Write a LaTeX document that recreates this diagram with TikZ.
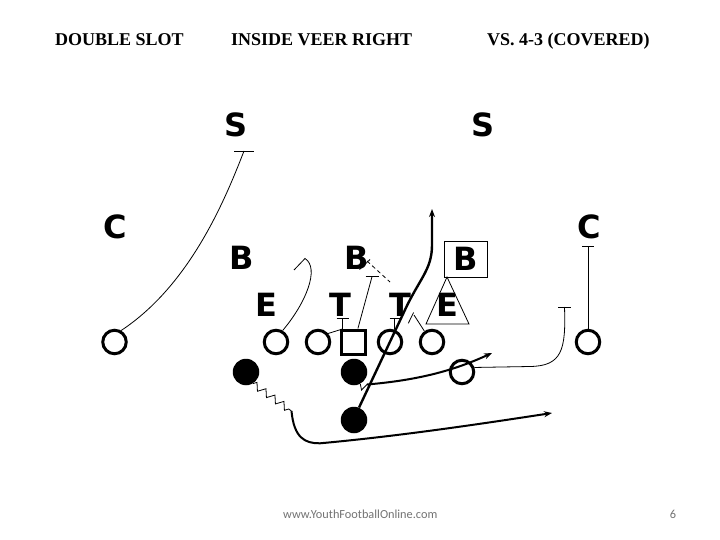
\documentclass[tikz,border=0pt]{standalone}
\usepackage{fontspec}
\setmainfont{Liberation Serif}
\newfontfamily\dejafont{DejaVu Sans}
\newfontfamily\carfont{Carlito}
\usetikzlibrary{arrows.meta,decorations.pathmorphing}
\begin{document}
\begin{tikzpicture}[x=1pt,y=-1pt,
  plyr/.style={font=\dejafont\bfseries\fontsize{32}{32}\selectfont, inner sep=0pt},
  ocirc/.style={circle,draw,line width=3pt,minimum size=23.5pt,inner sep=0pt},
  fcirc/.style={circle,fill,minimum size=26.5pt,inner sep=0pt},
  osq/.style={rectangle,draw,line width=3pt,minimum size=24pt,inner sep=0pt},
  rthin/.style={line width=0.8pt},
  rthick/.style={line width=2pt},
  rtip/.style={-{Stealth[length=8pt,width=6pt]}},
  ttl/.style={font=\bfseries\fontsize{18}{18}\selectfont, anchor=base west, inner sep=0pt},
  foot/.style={font=\carfont\fontsize{12.3}{12.3}\selectfont, text=black!55, anchor=base west, inner sep=0pt}
]
\fill[white] (0,0) rectangle (720,540);
\useasboundingbox (0,0) rectangle (720,540);

% titles
\node[ttl] (t1) at (55,46) {DOUBLE SLOT};
\node[ttl] (t2) at (231,46) {INSIDE VEER RIGHT};
\node[ttl] (t3) at (487,46) {VS. 4-3 (COVERED)};
\node[foot] (web) at (283,518) {www.YouthFootballOnline.com};
\node[foot, anchor=base] (pg) at (673,518) {6};

% defense
\node[plyr] (S1) at (236,125) {S};
\node[plyr] (S2) at (483,125) {S};
\node[plyr] (C1) at (115.5,227) {C};
\node[plyr] (C2) at (589,227) {C};
\node[plyr] (B1) at (242,258) {B};
\node[plyr] (B2) at (357,258) {B};
\node[plyr, draw, line width=0.8pt, minimum width=43pt, minimum height=36pt] (B3) at (465.5,259) {B};
\coordinate (tra) at (447,277);
\coordinate (trb) at (426,324);
\coordinate (trc) at (469,324);
\draw[rthin] (tra) -- (trb) -- (trc) -- cycle;
\node[plyr] (E1) at (266,305) {E};
\node[plyr] (T1) at (340,305) {T};
\node[plyr] (T2) at (400,305) {T};
\node[plyr] (E2) at (447,305) {E};

% offense
\node[ocirc] (WR1) at (114.5,342) {};
\node[ocirc] (OT1) at (276,342) {};
\node[ocirc] (OG1) at (318,342) {};
\node[osq] (CN) at (353,342) {};
\node[ocirc] (OG2) at (390,342) {};
\node[ocirc] (OT2) at (432,342) {};
\node[ocirc] (SL) at (462,372) {};
\node[ocirc] (WR2) at (588,342) {};
\node[fcirc] (HB) at (246,372) {};
\node[fcirc] (QB) at (354,372) {};
\node[fcirc] (FB) at (354,420) {};

% WR1 block on S
\coordinate (wr1e) at (244,151);
\draw[rthin] (WR1.60) .. controls (190,285) and (225,200) .. (wr1e);
\draw[rthin] (wr1e) ++(-10,0) -- ++(20,0);

% OT1 route
\coordinate (ot1e) at (305,258.5);
\draw[rthin] (OT1.60) .. controls (306,303) and (320,268) .. (ot1e) -- (294,270);

% OG1 block
\coordinate (og1a) at (342.5,329);
\coordinate (og1e) at (342.5,318.3);
\draw[rthin] (OG1.40) -- (og1a) -- (og1e);
\draw[rthin] (og1e) ++(-6,0) -- ++(12,0);

% center block
\coordinate (cne) at (372,276.7);
\draw[rthin] (CN.70) -- (cne);
\draw[rthin] (cne) ++(-6.5,0) -- ++(13,0);

% B2 read
\coordinate (bra) at (359.5,269.5);
\coordinate (brb) at (370,259.5);
\coordinate (brc) at (390,282);
\draw[rthin] (bra) -- (brb);
\draw[rthin, dash pattern=on 4pt off 3pt] (367,261) -- (brc);

% OG2 block
\coordinate (og2e) at (394.5,318.3);
\draw[rthin] (OG2.70) -- (og2e);
\draw[rthin] (og2e) ++(-5,0) -- ++(10.5,0);

% OT2 block
\coordinate (ot2e) at (414,315);
\draw[rthin] (OT2.125) -- (ot2e);
\draw[rthin] (408.3,323.3) -- (413.6,312.5);

% veer (FB) route
\coordinate (fb1) at (404,312);
\coordinate (fb2) at (432,245);
\coordinate (fbt) at (432,209);
\draw[line width=2.4pt, rtip] (FB.68) -- (fb1) .. controls (419,279) and (432,270) .. (fb2) -- (fbt);

% QB pitch
\coordinate (qb1) at (361.5,390);
\coordinate (qb2) at (367,384.5);
\coordinate (qbt) at (492,353);
\draw[rthin] (QB.-62) -- (qb1) -- (qb2);
\draw[rthick, rtip] (qb2) .. controls (420,380) and (455,370) .. (qbt);

% slot route
\coordinate (sl1) at (530,366.5);
\coordinate (sle) at (564.5,307);
\draw[rthin] (SL.20) -- (sl1) .. controls (562,366) and (566,350) .. (sle);
\draw[rthin] (sle) ++(-6.5,0) -- ++(13,0);

% WR2 route
\coordinate (wr2e) at (588,246.7);
\draw[rthin] (WR2.north) -- (wr2e);
\draw[rthin] (wr2e) ++(-6,0) -- ++(12,0);

% HB motion
\coordinate (hb1) at (291.5,411);
\coordinate (hb2) at (320,443.3);
\coordinate (hbt) at (552,413);
\draw[rthin, decorate, decoration={zigzag, amplitude=3.5pt, segment length=11pt}] (HB.-60) -- (hb1);
\draw[rthick] (hb1) .. controls (294,438) and (305,443.5) .. (hb2);
\draw[rthick, rtip] (hb2) .. controls (400,436) and (480,424) .. (hbt);
\end{tikzpicture}
\end{document}
